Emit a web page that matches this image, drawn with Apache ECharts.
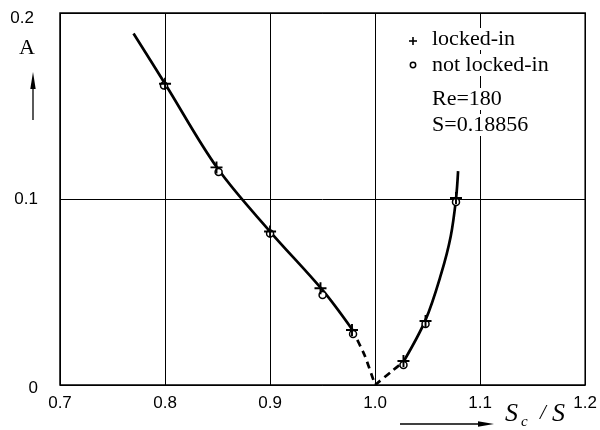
<!DOCTYPE html>
<html>
<head>
<meta charset="utf-8">
<script src="https://cdn.jsdelivr.net/npm/echarts@6/dist/echarts.min.js"></script>
<style>html,body{margin:0;padding:0;background:#fff}#c{width:600px;height:430px}</style>
</head>
<body>
<div id="c"></div>
<script>
// x ticks and y ticks
var xTicks = [0.7, 0.8, 0.9, 1.0, 1.1, 1.2];
var yTicks = [0, 0.1, 0.2];
// fitted curve
var curveLeft = [[0.770, 0.189], [0.800, 0.162], [0.850, 0.1165], [0.900, 0.0825], [0.950, 0.051], [0.978, 0.030]];
var curveDashLeft = [[0.978, 0.030], [0.990, 0.016], [1.000, 0.000]];
var curveDashRight = [[1.000, 0.000], [1.015, 0.007], [1.027, 0.0125]];
var curveRight = [[1.027, 0.0125], [1.048, 0.035], [1.063, 0.060], [1.072, 0.080], [1.077, 0.100], [1.079, 0.115]];
// measured points
var lockedIn = [[0.800, 0.162], [0.849, 0.117], [0.900, 0.0825], [0.948, 0.052], [0.978, 0.0296], [1.027, 0.0129], [1.048, 0.0344], [1.077, 0.1005]];
var notLockedIn = [[0.799, 0.161], [0.851, 0.1145], [0.900, 0.0815], [0.950, 0.0484], [0.979, 0.0274], [1.027, 0.0108], [1.048, 0.0328], [1.077, 0.0984]];

var chart = echarts.init(document.getElementById('c'));
var plusPath = 'path://M4.2,0H5.8V4.2H10V5.8H5.8V10H4.2V5.8H0V4.2H4.2Z';
var sans = '"Liberation Sans", Arial, sans-serif';
var serif = '"Liberation Serif", "Times New Roman", serif';
var lineBase = {type: 'line', symbol: 'none', smooth: 0.35, silent: true, z: 3};
var legendFont = '22px ' + serif;
chart.setOption({
  animation: false,
  backgroundColor: '#fff',
  grid: {left: 60, right: 11, top: 13, bottom: 45, show: true, borderColor: '#000', borderWidth: 1.5, backgroundColor: 'transparent'},
  xAxis: {
    type: 'value', min: xTicks[0], max: xTicks[xTicks.length - 1], interval: 0.1,
    axisLine: {show: false}, axisTick: {show: false},
    splitLine: {show: true, lineStyle: {color: '#000', width: 1}},
    axisLabel: {color: '#000', fontFamily: sans, fontSize: 17, margin: 10,
      formatter: function (v) { return v.toFixed(1); }}
  },
  yAxis: {
    type: 'value', min: yTicks[0], max: yTicks[yTicks.length - 1], interval: 0.1,
    axisLine: {show: false}, axisTick: {show: false},
    splitLine: {show: true, lineStyle: {color: '#000', width: 1}},
    axisLabel: {color: '#000', fontFamily: sans, fontSize: 17, margin: 22,
      formatter: function (v) {
        if (v === 0) return '{lo|0}';
        if (Math.abs(v - 0.2) < 1e-9) return '{hi|0.2}';
        return v.toFixed(1);
      },
      rich: {
        lo: {fontFamily: sans, fontSize: 17, color: '#000', padding: [6, 0, 0, 0]},
        hi: {fontFamily: sans, fontSize: 17, color: '#000', padding: [10, 4, 0, 0]}
      }}
  },
  graphic: [
    {type: 'text', left: 19, top: 37, style: {text: 'A', font: '22px ' + serif, fill: '#000'}},
    {type: 'line', shape: {x1: 33, y1: 120, x2: 33, y2: 84}, style: {stroke: '#000', lineWidth: 1.3}},
    {type: 'polygon', shape: {points: [[33, 72], [30.3, 89], [35.7, 89]]}, style: {fill: '#000'}},
    {type: 'line', shape: {x1: 400, y1: 424, x2: 482, y2: 424}, style: {stroke: '#000', lineWidth: 1.3}},
    {type: 'polygon', shape: {points: [[494, 424], [478, 421.3], [478, 426.7]]}, style: {fill: '#000'}},
    {type: 'text', left: 505, top: 401, style: {text: 'S', font: 'italic 26px ' + serif, fill: '#000'}},
    {type: 'text', left: 521, top: 415, style: {text: 'c', font: 'italic 15px ' + serif, fill: '#000'}},
    {type: 'text', left: 540, top: 403, style: {text: '/', font: 'italic 21px ' + serif, fill: '#000'}},
    {type: 'text', left: 552, top: 401, style: {text: 'S', font: 'italic 26px ' + serif, fill: '#000'}},
    {type: 'polyline', shape: {points: [[409, 41], [417, 41]]}, style: {stroke: '#000', lineWidth: 1.6}},
    {type: 'polyline', shape: {points: [[413, 37], [413, 45]]}, style: {stroke: '#000', lineWidth: 1.6}},
    {type: 'circle', shape: {cx: 413, cy: 65, r: 2.7}, style: {fill: '#fff', stroke: '#000', lineWidth: 1.5}},
    {type: 'text', left: 432, top: 28, z: 10, style: {text: 'locked-in', font: legendFont, fill: '#000', backgroundColor: '#fff'}},
    {type: 'text', left: 432, top: 54, z: 10, style: {text: 'not locked-in', font: legendFont, fill: '#000', backgroundColor: '#fff'}},
    {type: 'text', left: 432, top: 88, z: 10, style: {text: 'Re=180', font: legendFont, fill: '#000', backgroundColor: '#fff'}},
    {type: 'text', left: 432, top: 114, z: 10, style: {text: 'S=0.18856', font: legendFont, fill: '#000', backgroundColor: '#fff'}}
  ],
  series: [
    Object.assign({}, lineBase, {data: curveLeft, lineStyle: {color: '#000', width: 2.7}}),
    Object.assign({}, lineBase, {data: curveDashLeft, smooth: 0.2, lineStyle: {color: '#000', width: 2.7, type: [7, 5]}}),
    Object.assign({}, lineBase, {data: curveDashRight, smooth: 0.2, lineStyle: {color: '#000', width: 2.7, type: [7, 5]}}),
    Object.assign({}, lineBase, {data: curveRight, lineStyle: {color: '#000', width: 2.7}}),
    {type: 'scatter', data: notLockedIn, symbol: 'circle', symbolSize: 7, z: 4,
      itemStyle: {color: '#fff', borderColor: '#000', borderWidth: 1.5, opacity: 1}},
    {type: 'scatter', data: lockedIn, symbol: plusPath, symbolSize: 12, z: 5,
      itemStyle: {color: '#000', opacity: 1}}
  ]
});
</script>
</body>
</html>
